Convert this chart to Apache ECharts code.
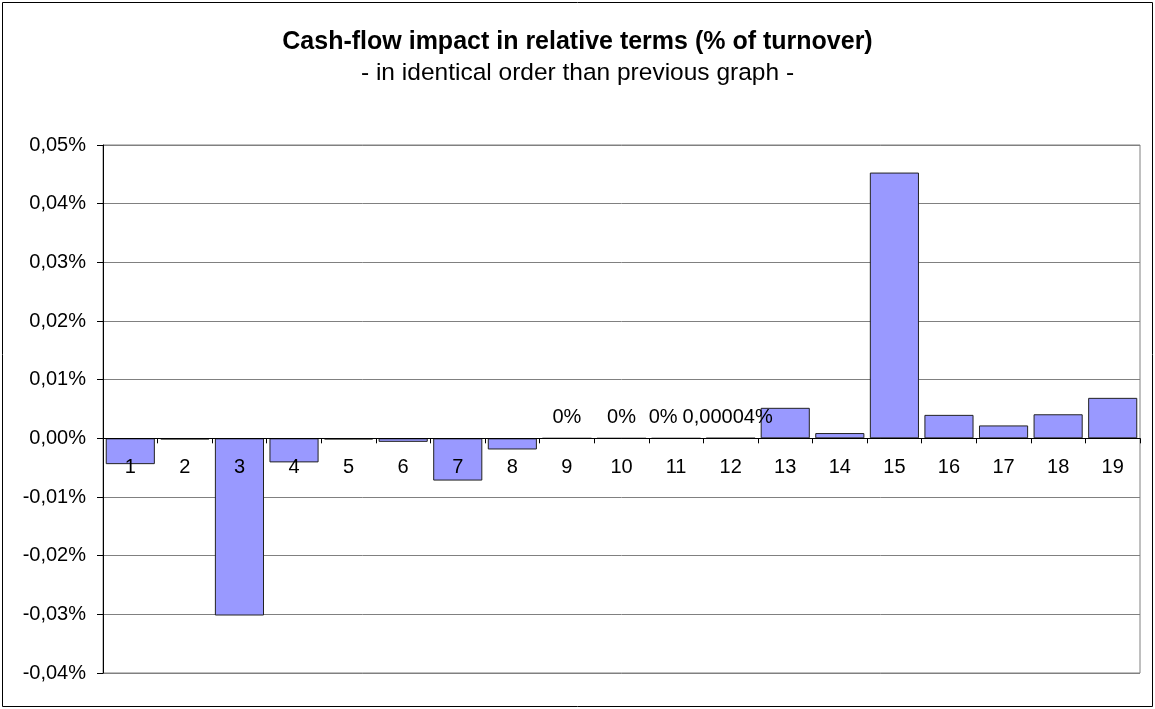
<!DOCTYPE html>
<html>
<head>
<meta charset="utf-8">
<script src="https://cdn.jsdelivr.net/npm/echarts@6/dist/echarts.min.js"></script>
<style>
html,body{margin:0;padding:0;background:#fff;}
#c{width:1155px;height:709px;}
</style>
</head>
<body>
<div id="c"></div>
<script>
const titleText = 'Cash-flow impact in relative terms (% of turnover)';
const subtitleText = '- in identical order than previous graph -';
const categories = ['1','2','3','4','5','6','7','8','9','10','11','12','13','14','15','16','17','18','19'];
// values in percent of turnover
const values = [-0.0044, -0.0002, -0.0302, -0.0041, -0.0002, -0.0006, -0.0072, -0.0019, 0, 0, 0, 0.00004, 0.0052, 0.0009, 0.0453, 0.0040, 0.0022, 0.0041, 0.0069];
const pointLabels = ['', '', '', '', '', '', '', '', '0%', '0%', '0%', '0,00004%', '', '', '', '', '', '', ''];
const yTicks = {min: -0.04, max: 0.05, interval: 0.01};

const font = 'Liberation Sans, Arial, sans-serif';
// small horizontal nudges so neighbouring data labels do not collide (styling only)
const labelNudge = {10: [-13, 0], 11: [-3, 0]};
const chart = echarts.init(document.getElementById('c'), null, {renderer: 'canvas'});
const data = values.map((v, i) => {
  const item = {value: v};
  if (pointLabels[i]) {
    item.label = {show: true, formatter: pointLabels[i], offset: labelNudge[i] || [0, 0]};
  }
  return item;
});
chart.setOption({
  animation: false,
  backgroundColor: '#fff',
  title: {
    text: titleText,
    subtext: subtitleText,
    left: 'center',
    top: 25,
    itemGap: 6,
    textStyle: {fontFamily: font, fontSize: 25, fontWeight: 'bold', color: '#000'},
    subtextStyle: {fontFamily: font, fontSize: 24.5, color: '#000'}
  },
  graphic: [{
    type: 'rect', shape: {x: 2.5, y: 2.5, width: 1150, height: 704},
    style: {fill: 'none', stroke: '#000', lineWidth: 1}, z: 100
  }],
  grid: {left: 103, right: 15, top: 145, bottom: 36, containLabel: false, outerBoundsMode: 'none',
    show: true, borderColor: '#808080', borderWidth: 1},
  xAxis: {
    type: 'category',
    data: categories,
    boundaryGap: true,
    axisLine: {onZero: false, lineStyle: {color: '#000', width: 1}},
    axisTick: {show: true, alignWithLabel: false, inside: false, length: 5, lineStyle: {color: '#000'}},
    axisLabel: {color: '#000', fontFamily: font, fontSize: 20, margin: 19},
    splitLine: {show: false},
    z: 5
  },
  yAxis: {
    type: 'value',
    min: yTicks.min, max: yTicks.max, interval: yTicks.interval,
    axisLine: {show: true, lineStyle: {color: '#000', width: 1}},
    axisTick: {show: true, length: 6, lineStyle: {color: '#000'}},
    axisLabel: {color: '#000', fontFamily: font, fontSize: 20, margin: 17,
      formatter: v => v.toFixed(2).replace('.', ',') + '%'},
    splitLine: {show: true, lineStyle: {color: '#808080', width: 1}}
  },
  series: [{
    type: 'bar',
    data: data,
    barCategoryGap: '10%',
    itemStyle: {color: '#9999FF', borderColor: '#222', borderWidth: 1},
    label: {show: false, position: 'top', distance: 10, color: '#000', fontFamily: font, fontSize: 20}
  }]
});
// Move the category axis (line, ticks, labels) to the zero line, as in the original.
const bottomPx = chart.convertToPixel({yAxisIndex: 0}, yTicks.min);
const zeroPx = chart.convertToPixel({yAxisIndex: 0}, 0);
chart.setOption({xAxis: {offset: -(bottomPx - zeroPx)}});
</script>
</body>
</html>
